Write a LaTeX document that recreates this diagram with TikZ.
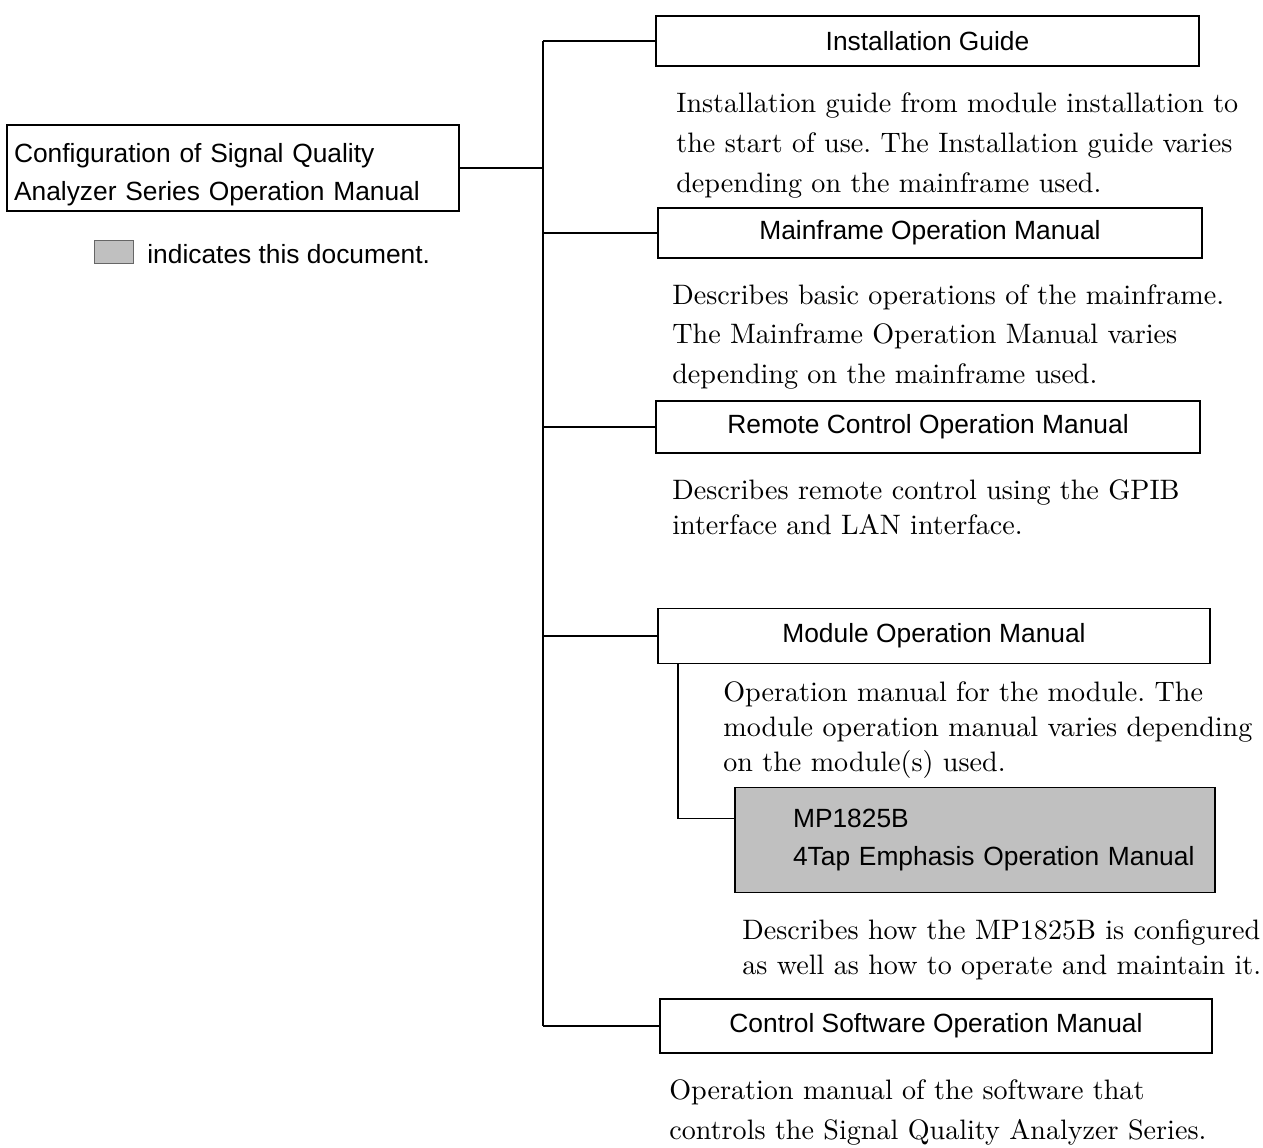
\documentclass[tikz,border=0pt]{standalone}
\usepackage{fontspec}
\setsansfont{Liberation Sans}
\newfontfamily\descfont{lmroman10-regular.otf}
\usetikzlibrary{calc,positioning}
\definecolor{docgray}{RGB}{192,192,192}
\frenchspacing

\begin{document}
\begin{tikzpicture}[x=0.02cm,y=-0.02cm,
  book/.style={draw,line width=0.8pt,font=\sffamily\fontsize{15}{21.6}\selectfont,inner sep=0pt},
  desc/.style={anchor=north west,align=left,inner sep=0pt},
  conn/.style={line width=0.8pt}]
            \useasboundingbox (0,0) rectangle (1263,1147);

            \node[book,minimum width=9.04cm,minimum height=1.72cm,align=left,text width=8.76cm,inner xsep=0.14cm] (conf) at (233,168) {\rule{0pt}{19pt}Configuration of Signal Quality\\Analyzer Series Operation Manual};
            \node[draw=black!60,fill=docgray,minimum width=0.78cm,minimum height=0.46cm,inner sep=0pt] (key) at (113.5,251.5) {};
            \node[font=\sffamily\fontsize{15}{18}\selectfont,anchor=base west,inner sep=0pt] (keytext) at (147,263) {indicates this document.};

            \node[book,minimum width=10.86cm,minimum height=1cm] (inst) at (927.5,41) {Installation Guide};
            \node[book,minimum width=10.88cm,minimum height=1cm] (mainf) at (930,233) {Mainframe Operation Manual};
            \node[book,minimum width=10.88cm,minimum height=1.04cm] (remote) at (928,427) {Remote Control Operation Manual};
            \node[book,minimum width=11.04cm,minimum height=1.1cm] (module) at (934,636) {Module Operation Manual};
            \node[book,fill=docgray,minimum height=2.1cm,align=left,text width=7.28cm,inner xsep=1.16cm] (mp) at (975,840) {MP1825B\\\mbox{4Tap Emphasis Operation Manual}};
            \node[book,minimum width=11.04cm,minimum height=1.08cm] (ctrl) at (936,1026) {Control Software Operation Manual};

            \node[desc,font=\descfont\fontsize{16}{23}\selectfont] (instdesc) at (676,92) {Installation guide from module installation to\\the start of use. The Installation guide varies\\depending on the mainframe used.};
            \node[desc,font=\descfont\fontsize{16}{22.5}\selectfont] (mainfdesc) at (672,284) {Describes basic operations of the mainframe.\\The Mainframe Operation Manual varies\\depending on the mainframe used.};
            \node[desc,font=\descfont\fontsize{16}{20}\selectfont] (remotedesc) at (672,479) {Describes remote control using the GPIB\\interface and LAN interface.};
            \node[desc,font=\descfont\fontsize{16}{20}\selectfont] (moduledesc) at (723,681) {Operation manual for the module. The\\module operation manual varies depending\\on the module(s) used.};
            \node[desc,font=\descfont\fontsize{16}{20}\selectfont] (mpdesc) at (742,919) {Describes how the MP1825B is configured\\as well as how to operate and maintain it.};
            \node[desc,font=\descfont\fontsize{16}{22.8}\selectfont] (ctrldesc) at (669,1079) {Operation manual of the software that\\controls the Signal Quality Analyzer Series.};

            \coordinate (spine) at (543,0);
            \coordinate (tap) at (678,0);

            \draw[conn] (conf.east) -- (conf.east -| spine);
            \draw[conn] (inst.west -| spine) -- (ctrl.west -| spine);
            \draw[conn] (inst.west -| spine) -- (inst.west);
            \draw[conn] (mainf.west -| spine) -- (mainf.west);
            \draw[conn] (remote.west -| spine) -- (remote.west);
            \draw[conn] (module.west -| spine) -- (module.west);
            \draw[conn] (ctrl.west -| spine) -- (ctrl.west);
            \draw[conn] (module.south -| tap) |- ($(mp.north west)!0.3!(mp.south west)$);
        \end{tikzpicture}
\end{document}
